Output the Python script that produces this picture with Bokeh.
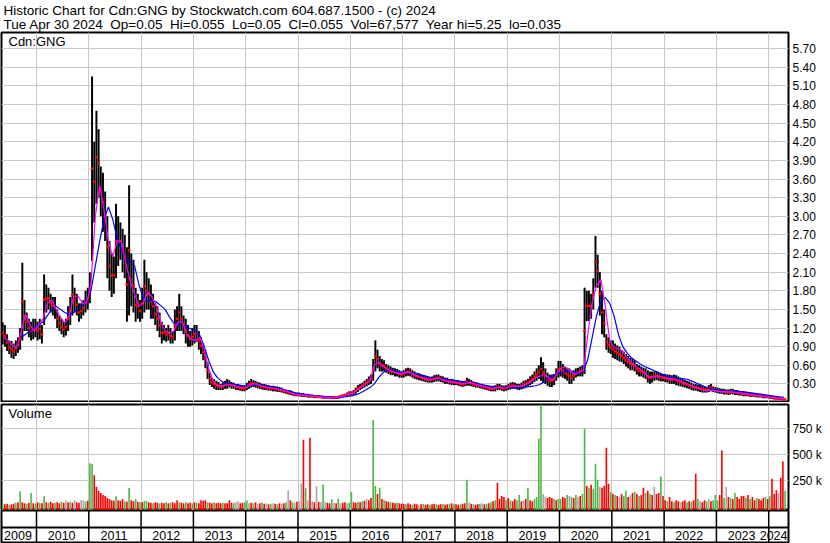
from bokeh.plotting import figure
from bokeh.layouts import column
from bokeh.models import (Range1d, FixedTicker, Grid, Label, ColumnDataSource,
                          PrintfTickFormatter, Span)
from bokeh.embed import file_html
from bokeh.resources import INLINE
from bokeh.core.properties import value

# ------------------------------------------------------------------ texts
NB = "\u00a0 "   # the quote line uses double spaces between its fields
TITLE_1 = "Historic Chart for Cdn:GNG by Stockwatch.com 604.687.1500 - (c) 2024"
TITLE_2 = NB.join(["Tue Apr 30 2024", "Op=0.05", "Hi=0.055", "Lo=0.05", "Cl=0.055",
                   "Vol=67,577", "Year hi=5.25", "lo=0.035"])
SYMBOL = "Cdn:GNG"
VOLUME_LABEL = "Volume"

YEARS = list(range(2009, 2025))          # year labels on the date strip
YEAR_STARTS = list(range(2010, 2025))    # year boundaries
PRICE_TICKS = [0.30, 0.60, 0.90, 1.20, 1.50, 1.80, 2.10, 2.40, 2.70, 3.00,
               3.30, 3.60, 3.90, 4.20, 4.50, 4.80, 5.10, 5.40, 5.70]
VOLUME_TICKS = [250, 500, 750]           # thousands

# ------------------------------------------------ half-month high / low bars
# 2009 starts with the first half of May; 2024 ends with the second half of April
HIGH_2009 = [1.29, 1.25, 1.10, 1.00, 0.99, 0.95, 1.00, 1.05, 1.20, 2.25, 1.65, 1.45, 1.35, 1.30, 1.35, 1.35]
LOW_2009 = [0.94, 0.90, 0.83, 0.78, 0.72, 0.70, 0.75, 0.80, 0.85, 1.00, 1.15, 1.15, 1.05, 1.00, 1.02, 1.05]
HIGH_2010 = [1.30, 1.35, 1.25, 2.06, 1.90, 1.85, 1.75, 1.70, 1.70, 1.50, 1.40, 1.35,
             1.30, 1.35, 1.55, 1.70, 2.06, 1.85, 1.75, 1.60, 1.60, 1.65, 1.80, 1.85]
LOW_2010 = [1.00, 1.02, 0.95, 1.25, 1.45, 1.50, 1.45, 1.40, 1.35, 1.20, 1.15, 1.10,
            1.05, 1.08, 1.15, 1.25, 1.40, 1.45, 1.40, 1.30, 1.35, 1.40, 1.45, 1.50]
HIGH_2011 = [2.10, 5.25, 4.20, 4.70, 4.40, 3.80, 3.70, 3.40, 3.00, 2.60, 2.40, 2.35,
             3.20, 3.00, 2.90, 2.80, 2.70, 2.50, 3.50, 2.40, 2.30, 1.85, 1.75, 1.65]
LOW_2011 = [1.60, 2.28, 2.90, 3.20, 3.30, 3.00, 2.75, 2.60, 2.00, 1.80, 1.70, 1.75,
            2.00, 2.20, 2.30, 2.10, 2.00, 1.30, 1.40, 1.55, 1.45, 1.30, 1.35, 1.30]
HIGH_2012 = [1.85, 2.30, 2.10, 2.00, 1.90, 1.75, 1.60, 1.55, 1.45, 1.30, 1.25, 1.20,
             1.25, 1.20, 1.15, 1.50, 1.55, 1.75, 1.55, 1.40, 1.35, 1.25, 1.15, 1.20]
LOW_2012 = [1.35, 1.45, 1.50, 1.50, 1.35, 1.35, 1.25, 1.15, 1.05, 0.95, 1.00, 0.98,
            1.00, 0.95, 0.95, 1.00, 1.15, 1.15, 1.15, 1.10, 0.95, 0.90, 0.90, 0.92]
HIGH_2013 = [1.25, 1.25, 1.15, 1.05, 0.95, 0.85, 0.65, 0.48, 0.40, 0.38, 0.35, 0.33,
             0.30, 0.32, 0.35, 0.38, 0.36, 0.33, 0.32, 0.30, 0.30, 0.28, 0.28, 0.27]
LOW_2013 = [0.95, 0.98, 0.85, 0.78, 0.68, 0.55, 0.38, 0.28, 0.25, 0.22, 0.20, 0.20,
            0.20, 0.20, 0.22, 0.22, 0.24, 0.22, 0.22, 0.20, 0.20, 0.19, 0.18, 0.18]
HIGH_2014 = [0.32, 0.35, 0.38, 0.36, 0.35, 0.33, 0.32, 0.30, 0.30, 0.29, 0.28, 0.27,
             0.27, 0.26, 0.26, 0.25, 0.24, 0.22, 0.21, 0.20, 0.20, 0.18, 0.17, 0.16]
LOW_2014 = [0.20, 0.22, 0.24, 0.25, 0.24, 0.23, 0.22, 0.21, 0.20, 0.20, 0.19, 0.19,
            0.18, 0.18, 0.17, 0.17, 0.16, 0.15, 0.14, 0.13, 0.12, 0.11, 0.10, 0.10]
HIGH_2015 = [0.16, 0.15, 0.15, 0.14, 0.14, 0.13, 0.13, 0.12, 0.12, 0.12, 0.11, 0.11,
             0.10, 0.10, 0.10, 0.10, 0.10, 0.10, 0.11, 0.12, 0.13, 0.14, 0.16, 0.18]
LOW_2015 = [0.10, 0.09, 0.09, 0.09, 0.08, 0.08, 0.08, 0.07, 0.07, 0.07, 0.07, 0.06,
            0.06, 0.06, 0.06, 0.055, 0.06, 0.06, 0.06, 0.07, 0.08, 0.09, 0.10, 0.11]
HIGH_2016 = [0.18, 0.20, 0.24, 0.28, 0.30, 0.32, 0.35, 0.38, 0.42, 0.45, 0.70, 1.00,
             0.85, 0.75, 0.70, 0.68, 0.62, 0.60, 0.58, 0.56, 0.55, 0.54, 0.52, 0.50]
LOW_2016 = [0.11, 0.12, 0.14, 0.17, 0.20, 0.22, 0.24, 0.26, 0.28, 0.30, 0.35, 0.50,
            0.55, 0.50, 0.50, 0.50, 0.48, 0.46, 0.44, 0.44, 0.42, 0.42, 0.40, 0.40]
HIGH_2017 = [0.52, 0.55, 0.56, 0.55, 0.52, 0.50, 0.48, 0.47, 0.45, 0.44, 0.43, 0.42,
             0.41, 0.42, 0.44, 0.45, 0.45, 0.43, 0.42, 0.40, 0.40, 0.38, 0.38, 0.37]
LOW_2017 = [0.40, 0.42, 0.43, 0.42, 0.40, 0.38, 0.37, 0.36, 0.35, 0.34, 0.33, 0.32,
            0.32, 0.32, 0.33, 0.34, 0.34, 0.33, 0.32, 0.30, 0.30, 0.29, 0.28, 0.28]
HIGH_2018 = [0.36, 0.36, 0.34, 0.33, 0.35, 0.40, 0.38, 0.36, 0.34, 0.33, 0.32, 0.30,
             0.30, 0.29, 0.28, 0.27, 0.26, 0.26, 0.28, 0.30, 0.30, 0.28, 0.27, 0.28]
LOW_2018 = [0.28, 0.27, 0.26, 0.25, 0.26, 0.27, 0.27, 0.26, 0.25, 0.24, 0.24, 0.23,
            0.22, 0.21, 0.20, 0.19, 0.18, 0.18, 0.18, 0.20, 0.20, 0.19, 0.18, 0.19]
HIGH_2019 = [0.30, 0.32, 0.33, 0.32, 0.30, 0.30, 0.32, 0.35, 0.36, 0.38, 0.42, 0.45,
             0.50, 0.55, 0.60, 0.73, 0.65, 0.55, 0.48, 0.45, 0.45, 0.46, 0.55, 0.67]
LOW_2019 = [0.20, 0.21, 0.22, 0.22, 0.21, 0.20, 0.21, 0.22, 0.24, 0.26, 0.28, 0.30,
            0.33, 0.35, 0.38, 0.35, 0.32, 0.30, 0.27, 0.25, 0.25, 0.28, 0.35, 0.40]
HIGH_2020 = [0.67, 0.62, 0.58, 0.56, 0.55, 0.50, 0.52, 0.55, 0.56, 0.58, 0.60, 1.85,
             1.80, 1.80, 1.75, 2.00, 2.68, 2.38, 2.10, 1.80, 1.50, 1.10, 1.05, 1.00]
LOW_2020 = [0.42, 0.40, 0.38, 0.35, 0.30, 0.30, 0.35, 0.40, 0.42, 0.42, 0.42, 0.46,
            1.31, 1.31, 1.35, 1.50, 1.85, 1.85, 1.40, 1.10, 1.05, 0.85, 0.80, 0.78]
HIGH_2021 = [1.00, 0.95, 0.92, 0.90, 0.85, 0.82, 0.78, 0.75, 0.72, 0.70, 0.68, 0.62,
             0.60, 0.58, 0.56, 0.55, 0.52, 0.50, 0.50, 0.50, 0.50, 0.48, 0.47, 0.46]
LOW_2021 = [0.72, 0.70, 0.68, 0.66, 0.65, 0.62, 0.58, 0.55, 0.52, 0.52, 0.50, 0.45,
            0.42, 0.42, 0.40, 0.38, 0.32, 0.30, 0.32, 0.35, 0.36, 0.35, 0.34, 0.34]
HIGH_2022 = [0.46, 0.45, 0.45, 0.44, 0.45, 0.44, 0.42, 0.40, 0.38, 0.36, 0.35, 0.34,
             0.32, 0.30, 0.30, 0.29, 0.28, 0.27, 0.26, 0.25, 0.28, 0.30, 0.26, 0.25]
LOW_2022 = [0.33, 0.32, 0.30, 0.30, 0.30, 0.28, 0.27, 0.26, 0.25, 0.24, 0.23, 0.22,
            0.20, 0.19, 0.19, 0.18, 0.17, 0.16, 0.16, 0.16, 0.17, 0.18, 0.17, 0.16]
HIGH_2023 = [0.24, 0.23, 0.22, 0.22, 0.21, 0.21, 0.22, 0.22, 0.20, 0.20, 0.19, 0.18,
             0.18, 0.17, 0.16, 0.16, 0.15, 0.15, 0.14, 0.14, 0.13, 0.13, 0.12, 0.12]
LOW_2023 = [0.15, 0.14, 0.14, 0.13, 0.13, 0.12, 0.13, 0.13, 0.12, 0.12, 0.11, 0.11,
            0.10, 0.10, 0.10, 0.09, 0.09, 0.09, 0.08, 0.08, 0.08, 0.07, 0.07, 0.07]
HIGH_2024 = [0.11, 0.10, 0.09, 0.09, 0.08, 0.08, 0.07, 0.06]
LOW_2024 = [0.06, 0.06, 0.05, 0.05, 0.04, 0.04, 0.035, 0.04]

# ------------------------------------------------ monthly moving averages
# fast (magenta) starts May 2009, slow (blue) starts Sep 2009
FAST_2009 = [1.05, 1.00, 0.92, 0.88, 1.15, 1.42, 1.25, 1.15]
FAST_2010 = [1.25, 1.35, 1.60, 1.65, 1.50, 1.37, 1.28, 1.40, 1.70, 1.72, 1.60, 1.60]
FAST_2011 = [1.90, 3.00, 3.50, 3.10, 2.60, 2.35, 2.60, 2.60, 2.25, 1.95, 1.75, 1.55]
FAST_2012 = [1.60, 1.78, 1.70, 1.55, 1.30, 1.15, 1.12, 1.15, 1.30, 1.30, 1.10, 1.02]
FAST_2013 = [1.00, 1.05, 0.85, 0.55, 0.35, 0.28, 0.26, 0.28, 0.29, 0.27, 0.25, 0.23]
FAST_2014 = [0.26, 0.30, 0.30, 0.27, 0.25, 0.24, 0.23, 0.21, 0.20, 0.18, 0.15, 0.13]
FAST_2015 = [0.12, 0.12, 0.11, 0.10, 0.095, 0.09, 0.08, 0.078, 0.08, 0.09, 0.10, 0.13]
FAST_2016 = [0.15, 0.20, 0.25, 0.30, 0.35, 0.60, 0.65, 0.58, 0.54, 0.50, 0.48, 0.46]
FAST_2017 = [0.48, 0.49, 0.46, 0.42, 0.40, 0.38, 0.37, 0.39, 0.39, 0.36, 0.34, 0.33]
FAST_2018 = [0.32, 0.30, 0.31, 0.32, 0.30, 0.28, 0.26, 0.24, 0.22, 0.24, 0.24, 0.23]
FAST_2019 = [0.25, 0.27, 0.26, 0.27, 0.30, 0.34, 0.40, 0.42, 0.46, 0.40, 0.36, 0.48]
FAST_2020 = [0.56, 0.56, 0.50, 0.45, 0.48, 0.52, 1.10, 1.62, 1.88, 1.98, 1.55, 1.00]
FAST_2021 = [0.88, 0.87, 0.82, 0.72, 0.64, 0.58, 0.54, 0.48, 0.41, 0.41, 0.43, 0.41]
FAST_2022 = [0.39, 0.38, 0.37, 0.35, 0.32, 0.29, 0.26, 0.24, 0.21, 0.19, 0.20, 0.19]
FAST_2023 = [0.18, 0.17, 0.17, 0.17, 0.16, 0.15, 0.14, 0.13, 0.12, 0.11, 0.10, 0.095]
FAST_2024 = [0.085, 0.075, 0.065, 0.06]

SLOW_2009 = [1.05, 1.10, 1.15, 1.20]
SLOW_2010 = [1.25, 1.30, 1.40, 1.50, 1.55, 1.50, 1.45, 1.42, 1.45, 1.50, 1.55, 1.65]
SLOW_2011 = [1.80, 2.20, 2.60, 2.95, 3.15, 2.95, 2.65, 2.45, 2.30, 2.27, 2.20, 1.90]
SLOW_2012 = [1.68, 1.64, 1.64, 1.62, 1.56, 1.50, 1.38, 1.28, 1.25, 1.24, 1.22, 1.18]
SLOW_2013 = [1.15, 1.08, 0.90, 0.68, 0.50, 0.40, 0.34, 0.31, 0.30, 0.29, 0.28, 0.27]
SLOW_2014 = [0.27, 0.28, 0.28, 0.28, 0.27, 0.26, 0.25, 0.23, 0.21, 0.19, 0.17, 0.15]
SLOW_2015 = [0.14, 0.13, 0.12, 0.11, 0.10, 0.10, 0.09, 0.09, 0.08, 0.08, 0.09, 0.10]
SLOW_2016 = [0.11, 0.13, 0.16, 0.20, 0.24, 0.30, 0.40, 0.48, 0.52, 0.52, 0.50, 0.49]
SLOW_2017 = [0.48, 0.48, 0.47, 0.46, 0.44, 0.42, 0.40, 0.39, 0.38, 0.38, 0.37, 0.36]
SLOW_2018 = [0.35, 0.34, 0.33, 0.32, 0.31, 0.30, 0.28, 0.27, 0.26, 0.25, 0.24, 0.24]
SLOW_2019 = [0.24, 0.24, 0.24, 0.24, 0.25, 0.26, 0.27, 0.29, 0.34, 0.40, 0.44, 0.47]
SLOW_2020 = [0.48, 0.50, 0.51, 0.49, 0.48, 0.50, 0.70, 1.05, 1.40, 1.64, 1.69, 1.60]
SLOW_2021 = [1.40, 1.10, 0.90, 0.80, 0.72, 0.67, 0.62, 0.58, 0.55, 0.52, 0.49, 0.46]
SLOW_2022 = [0.43, 0.41, 0.40, 0.39, 0.38, 0.37, 0.34, 0.31, 0.28, 0.25, 0.23, 0.21]
SLOW_2023 = [0.20, 0.19, 0.185, 0.18, 0.18, 0.175, 0.17, 0.16, 0.15, 0.14, 0.13, 0.12]
SLOW_2024 = [0.11, 0.10, 0.09, 0.085]

# ------------------------------------------------ half-month volume (thousands)
# colour codes: g = up, r = down, n = unchanged
VOL_2009 = [30, 20, 25, 15, 20, 25, 35, 40, 145, 40, 30, 25, 35, 130, 30, 25]
COL_2009 = "grrgrrgrgrrgrgrg"
VOL_2010 = [40, 35, 30, 97, 40, 35, 45, 30, 35, 40, 30, 45, 35, 58, 40, 45, 35, 58, 40, 35, 58, 60, 45, 55]
COL_2010 = "rgrgrgrrgrrgrnrgrnrrnngr"
VOL_2011 = [418, 410, 300, 190, 150, 130, 110, 100, 80, 70, 60, 55, 97, 60, 55, 70, 50, 45, 177, 60, 50, 70, 45, 40]
COL_2011 = "ggrrrrrrrrrrgrrrgrgrrgrg"
VOL_2012 = [40, 55, 55, 40, 35, 30, 40, 35, 30, 35, 30, 40, 30, 35, 40, 30, 58, 40, 35, 30, 40, 30, 35, 30]
COL_2012 = "rggrrgrrgrrgrgrrrgrrgrrg"
VOL_2013 = [40, 35, 30, 60, 55, 60, 40, 35, 30, 40, 30, 35, 30, 35, 30, 30, 58, 35, 30, 40, 50, 30, 35, 40]
COL_2013 = "rgrrrrgrrgrrrgrrrrgnnrrg"
VOL_2014 = [60, 30, 35, 30, 40, 25, 30, 35, 25, 30, 20, 25, 30, 25, 20, 30, 25, 30, 40, 154, 60, 40, 35, 45]
COL_2014 = "gnrgrnrgrnrgnrgrnrgnrgnr"
VOL_2015 = [50, 222, 643, 174, 60, 663, 50, 40, 196, 45, 40, 212, 40, 35, 30, 70, 35, 30, 75, 30, 35, 40, 30, 35]
COL_2015 = "nnrgnrnrnrngnrrgnrgnrrng"
VOL_2016 = [140, 40, 35, 45, 40, 50, 55, 70, 60, 80, 836, 196, 120, 180, 70, 60, 50, 45, 40, 35, 30, 35, 30, 25]
COL_2016 = "grrgrgrnrrggrgrgrrgrrgrr"
VOL_2017 = [25, 20, 30, 20, 15, 25, 20, 15, 20, 25, 15, 20, 15, 20, 25, 20, 15, 20, 25, 15, 20, 25, 30, 20]
COL_2017 = "rgrrgrrnrgrrgrrgrrgrrgrg"
VOL_2018 = [20, 15, 20, 25, 30, 257, 40, 25, 20, 15, 20, 25, 30, 20, 25, 30, 40, 50, 60, 228, 70, 100, 90, 60]
COL_2018 = "rrgrrgnrgrrgnrgrgrgrrrrg"
VOL_2019 = [80, 60, 50, 70, 60, 110, 50, 60, 70, 177, 60, 50, 70, 90, 653, 997, 120, 95, 80, 90, 80, 70, 60, 70]
COL_2019 = "rgrrggrnrgrrggggnnrrrgrg"
VOL_2020 = [70, 90, 80, 110, 100, 90, 80, 110, 90, 100, 120, 750, 200, 180, 210, 170, 412, 257, 190, 180, 200, 566, 218, 140]
COL_2020 = "grrgngrgnrggrgrgggnrrrrg"
VOL_2021 = [120, 110, 100, 90, 120, 100, 150, 90, 110, 130, 140, 120, 100, 110, 180, 130, 150, 120, 110, 190, 120, 130, 289, 100]
COL_2021 = "rgrnrggrnrgrgrrgrgrnrrgr"
VOL_2022 = [60, 50, 90, 50, 40, 60, 50, 40, 50, 60, 40, 50, 45, 60, 315, 70, 50, 40, 60, 50, 70, 50, 60, 110]
COL_2022 = "rgrrgrrnrrgrgrrgnrrgnrgg"
VOL_2023 = [60, 110, 540, 80, 190, 90, 80, 70, 130, 90, 70, 100, 100, 80, 110, 70, 90, 60, 80, 70, 60, 80, 90, 70]
COL_2023 = "grrgnrgrgrrrrgrgrrgrrrgr"
VOL_2024 = [100, 267, 120, 155, 130, 277, 434, 150]
COL_2024 = "grrrnrrg"

# ------------------------------------------------ assembling
HIGHS = [HIGH_2009, HIGH_2010, HIGH_2011, HIGH_2012, HIGH_2013, HIGH_2014, HIGH_2015, HIGH_2016,
         HIGH_2017, HIGH_2018, HIGH_2019, HIGH_2020, HIGH_2021, HIGH_2022, HIGH_2023, HIGH_2024]
LOWS = [LOW_2009, LOW_2010, LOW_2011, LOW_2012, LOW_2013, LOW_2014, LOW_2015, LOW_2016,
        LOW_2017, LOW_2018, LOW_2019, LOW_2020, LOW_2021, LOW_2022, LOW_2023, LOW_2024]
FASTS = [FAST_2009, FAST_2010, FAST_2011, FAST_2012, FAST_2013, FAST_2014, FAST_2015, FAST_2016,
         FAST_2017, FAST_2018, FAST_2019, FAST_2020, FAST_2021, FAST_2022, FAST_2023, FAST_2024]
SLOWS = [SLOW_2009, SLOW_2010, SLOW_2011, SLOW_2012, SLOW_2013, SLOW_2014, SLOW_2015, SLOW_2016,
         SLOW_2017, SLOW_2018, SLOW_2019, SLOW_2020, SLOW_2021, SLOW_2022, SLOW_2023, SLOW_2024]
VOLS = [VOL_2009, VOL_2010, VOL_2011, VOL_2012, VOL_2013, VOL_2014, VOL_2015, VOL_2016,
        VOL_2017, VOL_2018, VOL_2019, VOL_2020, VOL_2021, VOL_2022, VOL_2023, VOL_2024]
COLS = [COL_2009, COL_2010, COL_2011, COL_2012, COL_2013, COL_2014, COL_2015, COL_2016,
        COL_2017, COL_2018, COL_2019, COL_2020, COL_2021, COL_2022, COL_2023, COL_2024]


def period_times(year, n, per_year):
    """Centres of the last n periods of the first year, or the first n periods otherwise."""
    first = per_year - n if year == YEARS[0] else 0
    return [year + (first + i + 0.5) / per_year for i in range(n)]


t_bar, hi, lo, t_vol, vol, vcol = [], [], [], [], [], []
t_fast, fast, t_slow, slow = [], [], [], []
COLOR_OF = {"g": "#4db848", "r": "#ff0000", "n": "#a8a8a8"}
for k, yr in enumerate(YEARS):
    t_bar += period_times(yr, len(HIGHS[k]), 24)
    hi += HIGHS[k]
    lo += LOWS[k]
    t_vol += period_times(yr, len(VOLS[k]), 24)
    vol += VOLS[k]
    vcol += [COLOR_OF[c] for c in COLS[k]]
    t_fast += period_times(yr, len(FASTS[k]), 12)
    fast += FASTS[k]
    t_slow += period_times(yr, len(SLOWS[k]), 12)
    slow += SLOWS[k]

bars = ColumnDataSource(dict(t=t_bar, hi=hi, lo=lo, mid=[(a + b) / 2 for a, b in zip(hi, lo)]))
vols = ColumnDataSource(dict(t=t_vol, v=vol, c=vcol))
fast_src = ColumnDataSource(dict(t=t_fast, v=fast))
slow_src = ColumnDataSource(dict(t=t_slow, v=slow))

# ------------------------------------------------ layout / style constants
FONT = "Liberation Sans"
GRID = "#c8c8c8"
W = 830
AXIS_W = 42             # right-hand label column
X_START, X_END = 2009.331, 2024.378
P_MIN, P_MAX = 0.0, 5.96
V_MIN, V_MAX = -40, 985
BAR_W = 0.9 / 24
VOL_W = 0.75 / 24

xr = Range1d(X_START, X_END)


def base_fig(height, y_range, top, bottom, yloc):
    f = figure(width=W, height=height, x_range=xr, y_range=y_range, output_backend="svg",
               toolbar_location=None, x_axis_location=None, y_axis_location=yloc,
               min_border_left=1, min_border_right=AXIS_W, min_border_top=top,
               min_border_bottom=bottom)
    f.outline_line_color = "black"
    f.outline_line_width = 2
    f.background_fill_color = "white"
    f.border_fill_color = "white"
    f.xgrid.visible = False
    return f


def style_axis(ax, ticks, fmt):
    ax.ticker = FixedTicker(ticks=ticks)
    ax.formatter = PrintfTickFormatter(format=fmt)
    ax.axis_line_color = None
    ax.major_tick_line_color = None
    ax.minor_tick_line_color = None
    ax.major_tick_out = 0
    ax.major_tick_in = 0
    ax.major_label_standoff = 4
    ax.major_label_text_font = FONT
    ax.major_label_text_font_size = "12px"
    ax.major_label_text_color = "black"


# ---- price panel
price = base_fig(402, Range1d(P_MIN, P_MAX), 31, 0, "right")
price.title.text = "\n".join([TITLE_1, TITLE_2])
price.title.text_font = FONT
price.title.text_font_size = "13.5px"
price.title.text_font_style = "normal"
price.title.text_color = "black"
price.title.text_line_height = 0.96
price.title.offset = 2
price.title.standoff = 1
style_axis(price.yaxis[0], PRICE_TICKS, "%.2f")
price.ygrid.ticker = FixedTicker(ticks=PRICE_TICKS)
price.ygrid.grid_line_color = GRID
price.add_layout(Grid(dimension=0, ticker=FixedTicker(ticks=YEAR_STARTS), grid_line_color=GRID))

price.vbar(x="t", top="hi", bottom="lo", width=BAR_W, source=bars, fill_color="black", line_color=None)
price.scatter(x="t", y="mid", source=bars, marker="square", size=2.5, fill_color="red", line_color=None)
price.line(x="t", y="v", source=slow_src, line_color="#0000ff", line_width=1.2)
price.line(x="t", y="v", source=fast_src, line_color="#ff00ff", line_width=1.2)
price.add_layout(Label(x=X_START, y=P_MAX, text=SYMBOL, x_offset=7, y_offset=-1,
                       text_baseline="top", text_font=FONT, text_font_size="13px",
                       text_color="black"))

# ---- volume panel
volp = base_fig(108, Range1d(V_MIN, V_MAX), 2, 0, "right")
style_axis(volp.yaxis[0], VOLUME_TICKS, "%d k")
volp.ygrid.ticker = FixedTicker(ticks=VOLUME_TICKS)
volp.ygrid.grid_line_color = GRID
volp.add_layout(Grid(dimension=0, ticker=FixedTicker(ticks=YEAR_STARTS), grid_line_color=GRID))
volp.vbar(x="t", top="v", bottom=V_MIN, width=VOL_W, source=vols, fill_color="c", line_color=None)
volp.add_layout(Label(x=X_START, y=V_MAX, text=VOLUME_LABEL, x_offset=7, y_offset=-1,
                      text_baseline="top", text_font=FONT, text_font_size="13px",
                      text_color="black"))

# ---- date strip: an empty upper row and a row of year labels
STRIP_H = 33
STRIP_MID, LABEL_Y = 15, 7.5
strip = base_fig(STRIP_H, Range1d(0, STRIP_H - 1), 0, 1, None)
strip.grid.visible = False
label_x = [(max(y, X_START) + min(y + 1, X_END)) / 2 for y in YEARS]
label_x[-1] = X_END              # last (partial) year: right-aligned to the edge
label_align = ["center"] * (len(YEARS) - 1) + ["right"]
strip.segment(x0="x", y0=0, x1="x", y1=STRIP_H, source=ColumnDataSource(dict(x=YEAR_STARTS)),
              line_color="black", line_width=1.5)
strip.add_layout(Span(location=STRIP_MID, dimension="width", line_color="black", line_width=2))
strip.text(x="x", y=LABEL_Y, text="label", text_align="align",
           source=ColumnDataSource(dict(x=label_x, label=[str(y) for y in YEARS],
                                        align=label_align)),
           text_font=value(FONT), text_font_size=value("12.5px"),
           text_baseline="middle", text_color="black", x_offset=-1)

layout = column(price, volp, strip, spacing=0)
open("out.html", "w").write(file_html(layout, INLINE))
